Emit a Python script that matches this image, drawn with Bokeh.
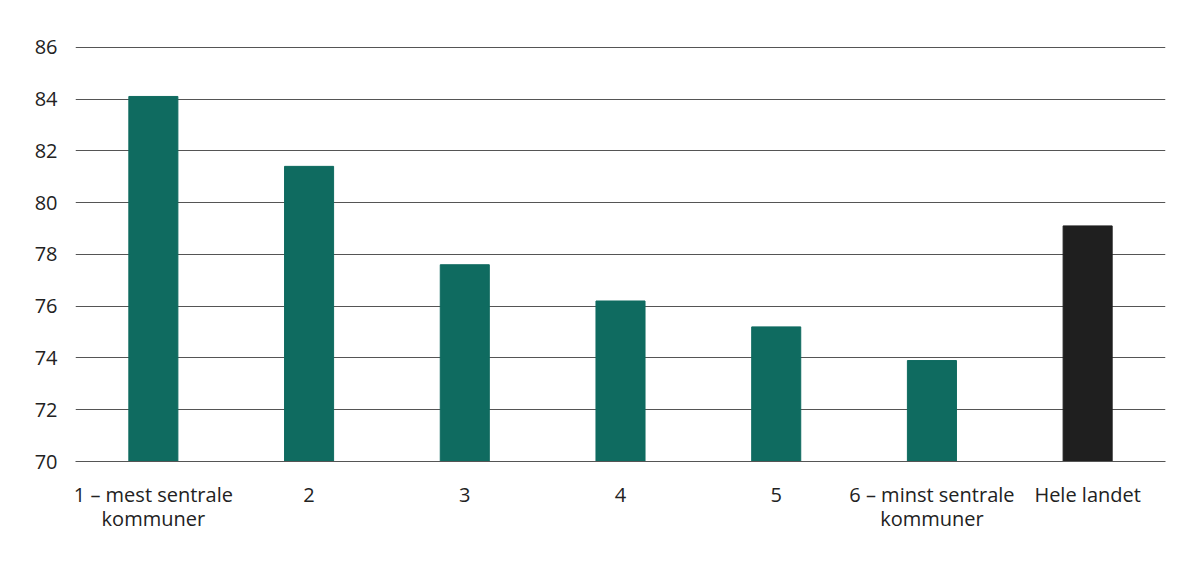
from bokeh.plotting import figure
from bokeh.models import ColumnDataSource, FixedTicker, Range1d
from bokeh.embed import file_html
from bokeh.resources import INLINE

categories = ["1 – mest sentrale\nkommuner", "2", "3", "4", "5", "6 – minst sentrale\nkommuner", "Hele landet"]
values = [84.1, 81.4, 77.6, 76.2, 75.2, 73.9, 79.1]
colors = ["#0f6b60", "#0f6b60", "#0f6b60", "#0f6b60", "#0f6b60", "#0f6b60", "#1f1f1f"]
y_ticks = [70, 72, 74, 76, 78, 80, 82, 84, 86]

xs = list(range(len(categories)))
src = ColumnDataSource(dict(x=xs, top=values, color=colors))

p = figure(width=1200, height=568, output_backend="svg", toolbar_location=None,
           x_range=Range1d(-0.5, len(categories) - 0.5), y_range=Range1d(70, 86.03),
           min_border_left=75, min_border_right=35, min_border_top=46, min_border_bottom=107)
p.outline_line_color = None
p.vbar(x="x", top="top", bottom=70, width=0.315, color="color", source=src)

p.xaxis.ticker = FixedTicker(ticks=xs)
p.xaxis.major_label_overrides = {i: c for i, c in enumerate(categories)}
p.xaxis.major_tick_line_color = None
p.xaxis.minor_tick_line_color = None
p.xaxis.axis_line_color = "#555555"
p.xaxis.major_label_standoff = 13
p.xaxis.major_label_text_font = "Open Sans"
p.xaxis.major_label_text_font_size = "20px"
p.xaxis.major_label_text_line_height = 0.9
p.xaxis.major_label_text_color = "#222222"
p.xgrid.grid_line_color = None

p.yaxis.ticker = FixedTicker(ticks=y_ticks)
p.yaxis.axis_line_color = None
p.yaxis.major_tick_line_color = None
p.yaxis.minor_tick_line_color = None
p.yaxis.major_label_standoff = 12
p.yaxis.major_label_text_font = "Open Sans"
p.yaxis.major_label_text_font_size = "20px"
p.yaxis.major_label_text_color = "#222222"
p.ygrid.grid_line_color = "#555555"
p.ygrid.grid_line_width = 1

open("out.html", "w").write(file_html(p, INLINE))
